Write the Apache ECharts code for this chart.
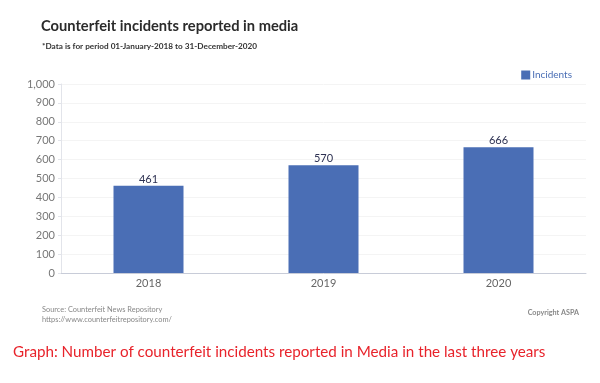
<!DOCTYPE html>
<html><head><meta charset="utf-8">
<script src="https://cdn.jsdelivr.net/npm/echarts@6/dist/echarts.min.js"></script>
<style>html,body{margin:0;padding:0;background:#fff}#c{width:600px;height:383px}</style>
</head><body><div id="c"></div>
<script>
const categories = ['2018', '2019', '2020'];
const incidents = [461, 570, 666];
const seriesName = 'Incidents';
const yTicks = [0, 100, 200, 300, 400, 500, 600, 700, 800, 900, 1000];

const chart = echarts.init(document.getElementById('c'));
chart.setOption({
  animation: false,
  textStyle: { fontFamily: 'Lato' },
  title: [
    { text: 'Counterfeit incidents reported in media', left: 41, top: 19, padding: 0,
      textStyle: { fontFamily: 'Lato', fontWeight: 'bold', fontSize: 14.7, color: '#2b2b2b' } },
    { text: '*Data is for period 01-January-2018 to 31-December-2020', left: 42, top: 42, padding: 0,
      textStyle: { fontFamily: 'Lato', fontWeight: 'bold', fontSize: 8.2, color: '#333' } },
    { text: 'Source: Counterfeit News Repository\nhttps://www.counterfeitrepository.com/', left: 42, top: 305, padding: 0,
      textStyle: { fontFamily: 'Lato', fontWeight: 'normal', fontSize: 7.4, color: '#888', lineHeight: 9.5 } },
    { text: 'Copyright ASPA', right: 21, top: 309, padding: 0,
      textStyle: { fontFamily: 'Lato', fontWeight: 'bold', fontSize: 7.2, color: '#888' } },
    { text: 'Graph: Number of counterfeit incidents reported in Media in the last three years', left: 13, top: 345, padding: 0,
      textStyle: { fontFamily: 'Lato', fontWeight: 'normal', fontSize: 15.2, color: '#e8232b' } }
  ],
  legend: {
    data: [seriesName], right: 28, top: 70, padding: 0, itemWidth: 9, itemHeight: 9, itemGap: 3,
    icon: 'rect',
    textStyle: { fontFamily: 'Lato', fontSize: 10, color: '#4a6eb5', padding: [0, 0, 0, -3] }
  },
  grid: { left: 61, right: 14, top: 84, bottom: 110 },
  xAxis: {
    type: 'category', data: categories,
    axisLine: { lineStyle: { color: '#c8ccd8' } },
    axisTick: { show: false },
    axisLabel: { color: '#666', fontSize: 11, fontFamily: 'Lato', margin: 5 }
  },
  yAxis: {
    type: 'value', min: yTicks[0], max: yTicks[yTicks.length - 1], interval: 100,
    axisLine: { show: true, lineStyle: { color: '#e2e4ea' } },
    axisTick: { show: true, length: 3, lineStyle: { color: '#e2e4ea' } },
    splitLine: { lineStyle: { color: '#f4f4f4' } },
    axisLabel: { color: '#777', fontSize: 11, fontFamily: 'Lato', margin: 6,
      formatter: v => v.toLocaleString('en-US') }
  },
  series: [{
    name: seriesName, type: 'bar', data: incidents, barWidth: 70,
    itemStyle: { color: '#4a6eb5' },
    label: { show: true, position: 'top', distance: 1, color: '#2d3152', fontSize: 11, fontFamily: 'Lato' }
  }]
});
</script></body></html>
